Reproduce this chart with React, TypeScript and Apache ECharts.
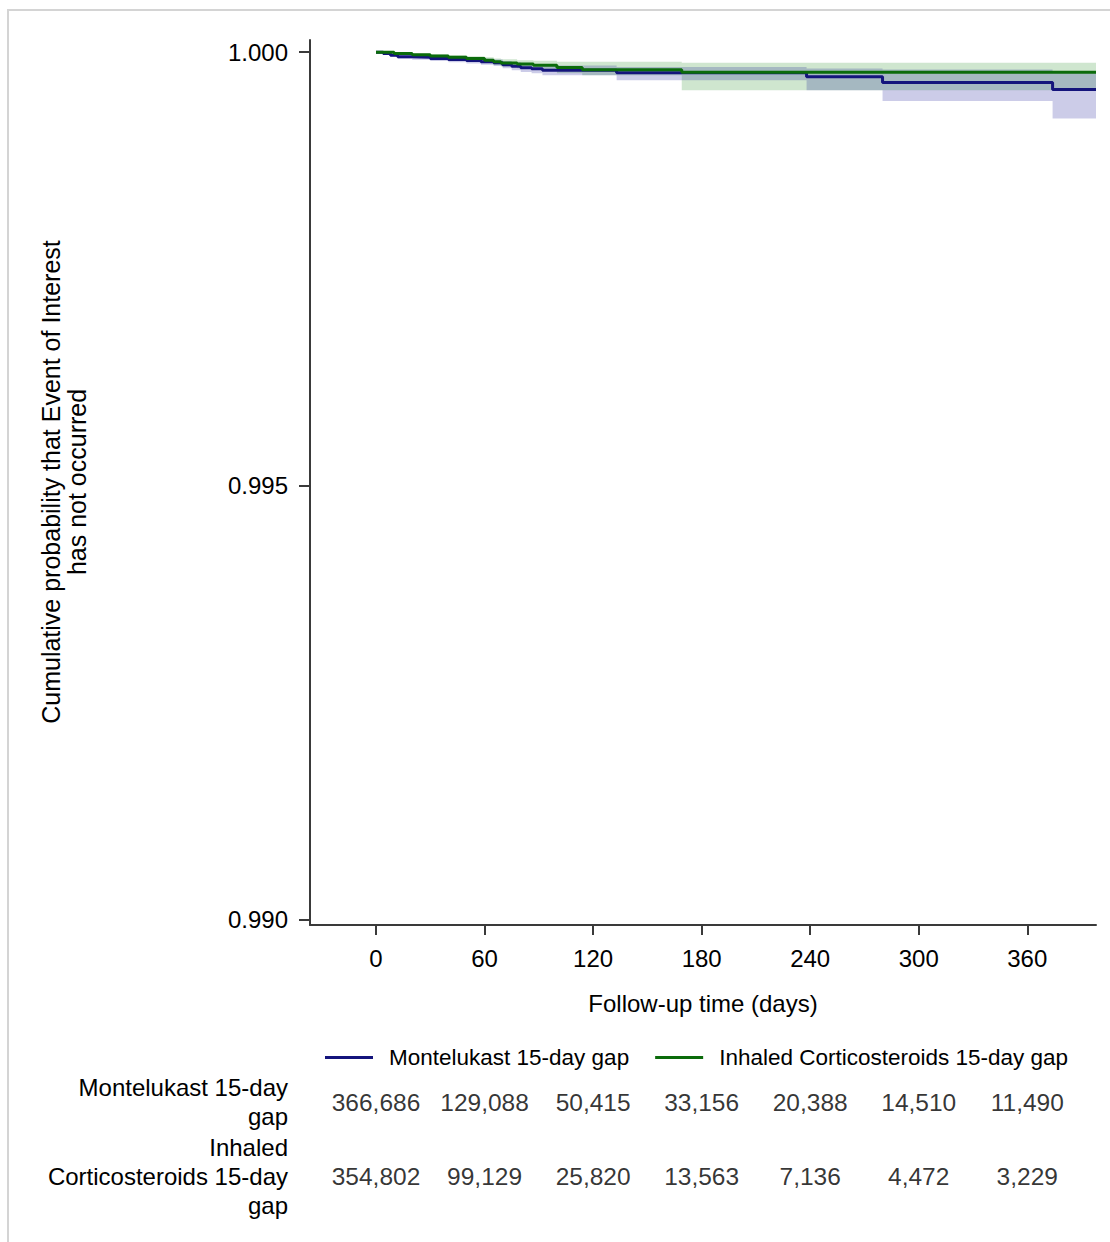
import React, { useEffect, useRef } from "react";
import * as echarts from "echarts";

// ---- Data ----
const MONT_NAME = "Montelukast 15-day gap";
const ICS_NAME = "Inhaled Corticosteroids 15-day gap";

// Kaplan-Meier step points (day, survival) and pointwise CI
const MONT_DAYS = [0, 4, 8, 12, 20, 30, 40, 50, 58, 65, 70, 75, 80, 86, 92, 133, 238, 280, 374, 398];
const MONT_SURV = [1.0, 0.999983, 0.999965, 0.999948, 0.99994, 0.999927, 0.999916, 0.999903, 0.99989, 0.999879, 0.999856, 0.999838, 0.999821, 0.99981, 0.999792, 0.999763, 0.999717, 0.99965, 0.99957, 0.99957];
const MONT_UPPER = [1.0, 0.999994, 0.999983, 0.999971, 0.999965, 0.999954, 0.999945, 0.999934, 0.999925, 0.999916, 0.999898, 0.999885, 0.999871, 0.999862, 0.999847, 0.99983, 0.999812, 0.9998, 0.999781, 0.999781];
const MONT_LOWER = [1.0, 0.999971, 0.999948, 0.999925, 0.999913, 0.999898, 0.999885, 0.99987, 0.999855, 0.999841, 0.999813, 0.999792, 0.999772, 0.999758, 0.999735, 0.999677, 0.999562, 0.999438, 0.999235, 0.999235];

const ICS_DAYS = [0, 10, 20, 30, 40, 50, 60, 65, 69, 78, 87, 100, 114, 169, 398];
const ICS_SURV = [1.0, 0.999985, 0.99997, 0.999955, 0.999942, 0.999927, 0.999908, 0.99989, 0.999875, 0.999862, 0.99985, 0.999823, 0.999798, 0.999769, 0.999769];
const ICS_UPPER = [1.0, 0.999994, 0.999985, 0.999975, 0.999965, 0.999954, 0.99994, 0.999927, 0.999917, 0.999908, 0.999901, 0.99989, 0.999888, 0.999877, 0.999877];
const ICS_LOWER = [1.0, 0.999975, 0.999954, 0.999935, 0.999919, 0.999901, 0.999875, 0.999853, 0.999834, 0.999815, 0.999799, 0.999758, 0.999735, 0.999562, 0.999562];

// Number at risk table
const AT_RISK_DAYS = [0, 60, 120, 180, 240, 300, 360];
const MONT_AT_RISK = [366686, 129088, 50415, 33156, 20388, 14510, 11490];
const ICS_AT_RISK = [354802, 99129, 25820, 13563, 7136, 4472, 3229];
const ROW_NAMES = [MONT_NAME, ICS_NAME];
const ROW_LABELS = ["Montelukast 15-day\ngap", "Inhaled\nCorticosteroids 15-day\ngap"];

// Tick labels
const X_TICKS = [0, 60, 120, 180, 240, 300, 360];
const Y_TICKS = [0.99, 0.995, 1.0];

const FONT = "'Liberation Sans', Arial, sans-serif";
const FS = 24;
const BLUE = "#14147c";
const GREEN = "#0b6b0b";
const AXIS_COLOR = "#3a3a3a";

function toPairs(xs: number[], ys: number[]) {
  return xs.map((x, i) => [x, ys[i]]);
}

function bandRenderer(days: number[], lower: number[], upper: number[], fill: string) {
  return (params: any, api: any) => {
    const pts: number[][] = [];
    for (let i = 0; i < days.length - 1; i++) {
      pts.push(api.coord([days[i], upper[i]]));
      pts.push(api.coord([days[i + 1], upper[i]]));
    }
    for (let i = days.length - 2; i >= 0; i--) {
      pts.push(api.coord([days[i + 1], lower[i]]));
      pts.push(api.coord([days[i], lower[i]]));
    }
    return { type: "polygon", shape: { points: pts }, style: { fill }, silent: true };
  };
}

export default function App() {
  const ref = useRef<HTMLDivElement>(null);
  useEffect(() => {
    document.body.style.margin = "0";
    const chart = echarts.init(ref.current!, null, { renderer: "svg" });
    const tableData = [
      ...AT_RISK_DAYS.map((d, i) => [d, ROW_NAMES[0], MONT_AT_RISK[i]]),
      ...AT_RISK_DAYS.map((d, i) => [d, ROW_NAMES[1], ICS_AT_RISK[i]]),
    ];
    chart.setOption({
      animation: false,
      textStyle: { fontFamily: FONT, color: "#000" },
      grid: [
        { left: 310, right: 14, top: 40, height: 885 },
        { left: 310, right: 14, top: 1065, height: 148 },
      ],
      xAxis: [
        {
          type: "value",
          gridIndex: 0,
          min: -36.5,
          max: 398,
          splitLine: { show: false },
          axisLine: { show: true, onZero: false, lineStyle: { color: AXIS_COLOR, width: 2 } },
          axisTick: { show: true, length: 10, customValues: X_TICKS, lineStyle: { color: AXIS_COLOR, width: 2 } },
          axisLabel: { customValues: X_TICKS, fontSize: FS, color: "#000", margin: 21, fontFamily: FONT },
        },
        {
          type: "value",
          gridIndex: 1,
          min: -36.5,
          max: 398,
          show: false,
        },
      ],
      yAxis: [
        {
          type: "value",
          gridIndex: 0,
          min: 0.98994,
          max: 1.00014,
          splitLine: { show: false },
          axisLine: { show: true, onZero: false, lineStyle: { color: AXIS_COLOR, width: 2 } },
          axisTick: { show: true, length: 11, customValues: Y_TICKS, lineStyle: { color: AXIS_COLOR, width: 2 } },
          axisLabel: {
            customValues: Y_TICKS,
            fontSize: FS,
            color: "#000",
            margin: 22,
            fontFamily: FONT,
            formatter: (v: number) => v.toFixed(3),
          },
        },
        {
          type: "category",
          gridIndex: 1,
          inverse: true,
          data: ROW_NAMES,
          axisLine: { show: false },
          axisTick: { show: false },
          splitLine: { show: false },
          axisLabel: {
            fontSize: FS,
            lineHeight: 29,
            color: "#000",
            margin: 22,
            align: "right",
            fontFamily: FONT,
            formatter: (v: string) => ROW_LABELS[ROW_NAMES.indexOf(v)],
          },
        },
      ],
      legend: {
        data: [MONT_NAME, ICS_NAME],
        left: 320,
        top: 1041,
        icon: "rect",
        itemWidth: 48,
        itemHeight: 3,
        itemGap: 26,
        textStyle: { fontSize: 22.5, color: "#000", fontFamily: FONT, padding: [0, 0, 0, 11] },
      },
      graphic: [
        {
          type: "rect",
          shape: { x: 8, y: 10, width: 1110, height: 1240 },
          style: { stroke: "#d4d4d4", lineWidth: 2, fill: "rgba(0,0,0,0)" },
          silent: true,
        },
        {
          type: "text",
          x: 64,
          y: 482,
          rotation: Math.PI / 2,
          style: {
            text: "Cumulative probability that Event of Interest\nhas not occurred",
            fontSize: 25,
            lineHeight: 26,
            fill: "#000",
            fontFamily: FONT,
            align: "center",
            verticalAlign: "middle",
          },
        },
        {
          type: "text",
          x: 703,
          y: 1003,
          style: {
            text: "Follow-up time (days)",
            fontSize: FS,
            fill: "#000",
            fontFamily: FONT,
            align: "center",
            verticalAlign: "middle",
          },
        },
      ],
      series: [
        {
          type: "custom",
          name: "ICS CI",
          xAxisIndex: 0,
          yAxisIndex: 0,
          data: [[0, 1]],
          renderItem: bandRenderer(ICS_DAYS, ICS_LOWER, ICS_UPPER, "rgba(0,120,0,0.19)"),
          z: 1,
        },
        {
          type: "custom",
          name: "Montelukast CI",
          xAxisIndex: 0,
          yAxisIndex: 0,
          data: [[0, 1]],
          renderItem: bandRenderer(MONT_DAYS, MONT_LOWER, MONT_UPPER, "rgba(0,0,140,0.2)"),
          z: 1,
        },
        {
          type: "line",
          name: MONT_NAME,
          xAxisIndex: 0,
          yAxisIndex: 0,
          step: "end",
          showSymbol: false,
          data: toPairs(MONT_DAYS, MONT_SURV),
          lineStyle: { color: BLUE, width: 3 },
          itemStyle: { color: BLUE },
          z: 3,
        },
        {
          type: "line",
          name: ICS_NAME,
          xAxisIndex: 0,
          yAxisIndex: 0,
          step: "end",
          showSymbol: false,
          data: toPairs(ICS_DAYS, ICS_SURV),
          lineStyle: { color: GREEN, width: 3 },
          itemStyle: { color: GREEN },
          z: 4,
        },
        {
          type: "scatter",
          name: "At risk",
          xAxisIndex: 1,
          yAxisIndex: 1,
          data: tableData,
          symbolSize: 1,
          itemStyle: { color: "rgba(0,0,0,0)" },
          label: {
            show: true,
            position: "inside",
            fontSize: 24.5,
            color: "#000",
            fontFamily: FONT,
            formatter: (p: any) => Number(p.value[2]).toLocaleString("en-US"),
          },
          silent: true,
        },
      ],
    });
    return () => chart.dispose();
  }, []);
  return <div ref={ref} style={{ width: 1110, height: 1242, position: "absolute", left: 0, top: 0 }} />;
}
